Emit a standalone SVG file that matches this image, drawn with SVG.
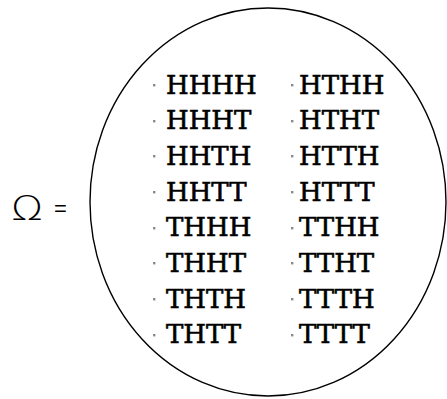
<svg xmlns="http://www.w3.org/2000/svg" width="447" height="399" viewBox="0 0 447 399">
<style>
.o{font-family:"DejaVu Serif","Liberation Serif",serif;font-size:26px;fill:#000;stroke:#000;stroke-width:0.6}
.b{fill:#8a8a8a}
</style>
<rect width="447" height="399" fill="#fff"/>
<g id="omega">
<text x="11" y="219.5" font-family="DejaVu Sans,sans-serif" font-weight="200" font-size="33" textLength="32" lengthAdjust="spacingAndGlyphs">Ω</text>
<text x="54" y="216" font-family="Liberation Sans,sans-serif" font-size="22">=</text>
</g>
<g id="set">
<ellipse cx="268" cy="202" rx="178" ry="194" fill="none" stroke="#000" stroke-width="1.4"/>
</g>
<g id="col1">
<rect class="b" x="153" y="84" width="2.4" height="2.4"/><text class="o" x="166" y="93.5">HHHH</text>
<rect class="b" x="153" y="120" width="2.4" height="2.4"/><text class="o" x="166" y="129.2">HHHT</text>
<rect class="b" x="153" y="155" width="2.4" height="2.4"/><text class="o" x="166" y="164.9">HHTH</text>
<rect class="b" x="153" y="191" width="2.4" height="2.4"/><text class="o" x="166" y="200.6">HHTT</text>
<rect class="b" x="153" y="227" width="2.4" height="2.4"/><text class="o" x="166" y="236.3">THHH</text>
<rect class="b" x="153" y="262" width="2.4" height="2.4"/><text class="o" x="166" y="272">THHT</text>
<rect class="b" x="153" y="298" width="2.4" height="2.4"/><text class="o" x="166" y="307.7">THTH</text>
<rect class="b" x="153" y="334" width="2.4" height="2.4"/><text class="o" x="166" y="343.4">THTT</text>
</g>
<g id="col2">
<rect class="b" x="291" y="84" width="2.4" height="2.4"/><text class="o" x="299" y="93.5">HTHH</text>
<rect class="b" x="291" y="120" width="2.4" height="2.4"/><text class="o" x="299" y="129.2">HTHT</text>
<rect class="b" x="291" y="155" width="2.4" height="2.4"/><text class="o" x="299" y="164.9">HTTH</text>
<rect class="b" x="291" y="191" width="2.4" height="2.4"/><text class="o" x="299" y="200.6">HTTT</text>
<rect class="b" x="291" y="227" width="2.4" height="2.4"/><text class="o" x="299" y="236.3">TTHH</text>
<rect class="b" x="291" y="262" width="2.4" height="2.4"/><text class="o" x="299" y="272">TTHT</text>
<rect class="b" x="291" y="298" width="2.4" height="2.4"/><text class="o" x="299" y="307.7">TTTH</text>
<rect class="b" x="291" y="334" width="2.4" height="2.4"/><text class="o" x="299" y="343.4">TTTT</text>
</g>
</svg>
